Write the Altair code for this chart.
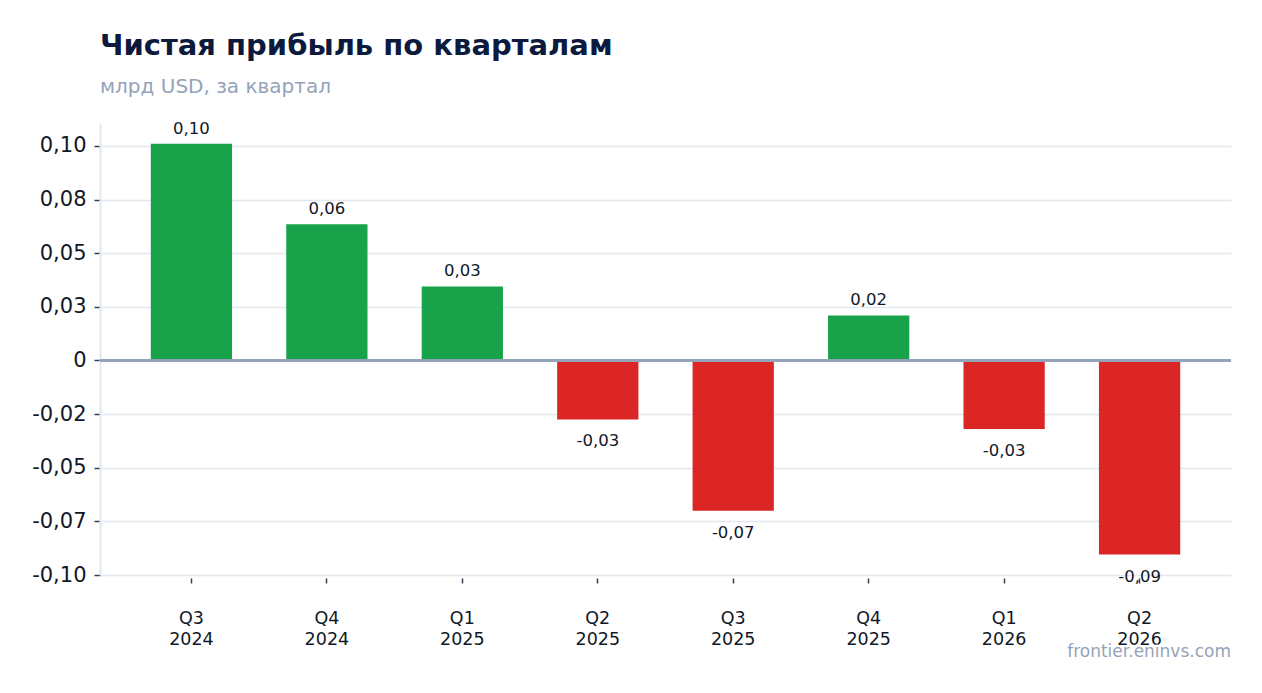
import altair as alt
import pandas as pd

quarters = ["Q3 2024", "Q4 2024", "Q1 2025", "Q2 2025", "Q3 2025", "Q4 2025", "Q1 2026", "Q2 2026"]
profit = [0.101, 0.0635, 0.0345, -0.0275, -0.07, 0.021, -0.032, -0.0905]
y_ticks = [0.1, 0.075, 0.05, 0.025, 0, -0.025, -0.05, -0.075, -0.1]

df = pd.DataFrame({"q": quarters, "v": profit})

FONT = "DejaVu Sans"
GREEN = "#18a34a"
RED = "#dc2626"
DARK = "#111827"
GREY = "#94a3b8"

lbl = "(datum.v < 0 ? '-' : '') + replace(format(abs(round(datum.v*100)/100), '.2f'), '.', ',')"

base = alt.Chart(df).transform_calculate(lab=lbl)

x_enc = alt.X(
    "q:N", sort=quarters, title=None,
    scale=alt.Scale(paddingInner=0.4, paddingOuter=0.375),
    axis=alt.Axis(
        labelAngle=0, labelExpr="split(datum.label, ' ')", labelFont=FONT, labelFontSize=17.5,
        labelColor=DARK, labelLineHeight=21, labelPadding=26, tickSize=5, tickColor="#374151",
        tickWidth=1.5, domain=False, grid=False, offset=3,
    ),
)
y_enc = alt.Y(
    "v:Q", title=None,
    scale=alt.Scale(domain=[-0.1, 0.1107], nice=False, zero=False),
    axis=alt.Axis(
        values=y_ticks,
        labelExpr="datum.value == 0 ? '0' : (datum.value < 0 ? '-' : '') + replace(format(abs(round(datum.value*100)/100), '.2f'), '.', ',')",
        labelFont=FONT, labelFontSize=21, labelColor=DARK, labelPadding=8,
        tickSize=6, tickColor="#374151", tickWidth=1.5,
        domain=True, domainColor="#e2e8f0", domainWidth=2,
        grid=True, gridColor="#e2e8f0", gridWidth=1.5,
    ),
)

bars = base.mark_bar().encode(
    x=x_enc,
    y=y_enc,
    y2=alt.datum(0),
    color=alt.condition("datum.v >= 0", alt.value(GREEN), alt.value(RED)),
)

zero = alt.Chart(df).mark_rule(color=GREY, strokeWidth=2).encode(y=alt.datum(0))

pos_text = base.transform_filter("datum.v >= 0").mark_text(
    font=FONT, fontSize=16.5, color=DARK, baseline="middle", dy=-15
).encode(x=alt.X("q:N", sort=quarters), y="v:Q", text="lab:N")

neg_text = base.transform_filter("datum.v < 0").mark_text(
    font=FONT, fontSize=16.5, color=DARK, baseline="middle", dy=22
).encode(x=alt.X("q:N", sort=quarters), y="v:Q", text="lab:N")

watermark = alt.Chart(pd.DataFrame({"t": ["frontier.eninvs.com"]})).mark_text(
    font=FONT, fontSize=17, color=GREY, align="right", baseline="middle"
).encode(x=alt.value(1131), y=alt.value(529), text="t:N")

chart = alt.layer(bars, zero, pos_text, neg_text, watermark).properties(
    width=1131,
    height=452,
    title=alt.TitleParams(
        text="Чистая прибыль по кварталам",
        subtitle="млрд USD, за квартал",
        anchor="start", frame="group",
        font=FONT, fontSize=29, fontWeight="bold", color="#0b1a3d",
        subtitleFont=FONT, subtitleFontSize=20, subtitleColor=GREY,
        subtitlePadding=16, offset=24,
    ),
    autosize=alt.AutoSizeParams(type="none"),
    padding={"left": 92, "top": 115, "right": 23, "bottom": 100},
).configure_view(stroke=None)

chart.save("out.html", embed_options={"renderer": "svg", "actions": False})
